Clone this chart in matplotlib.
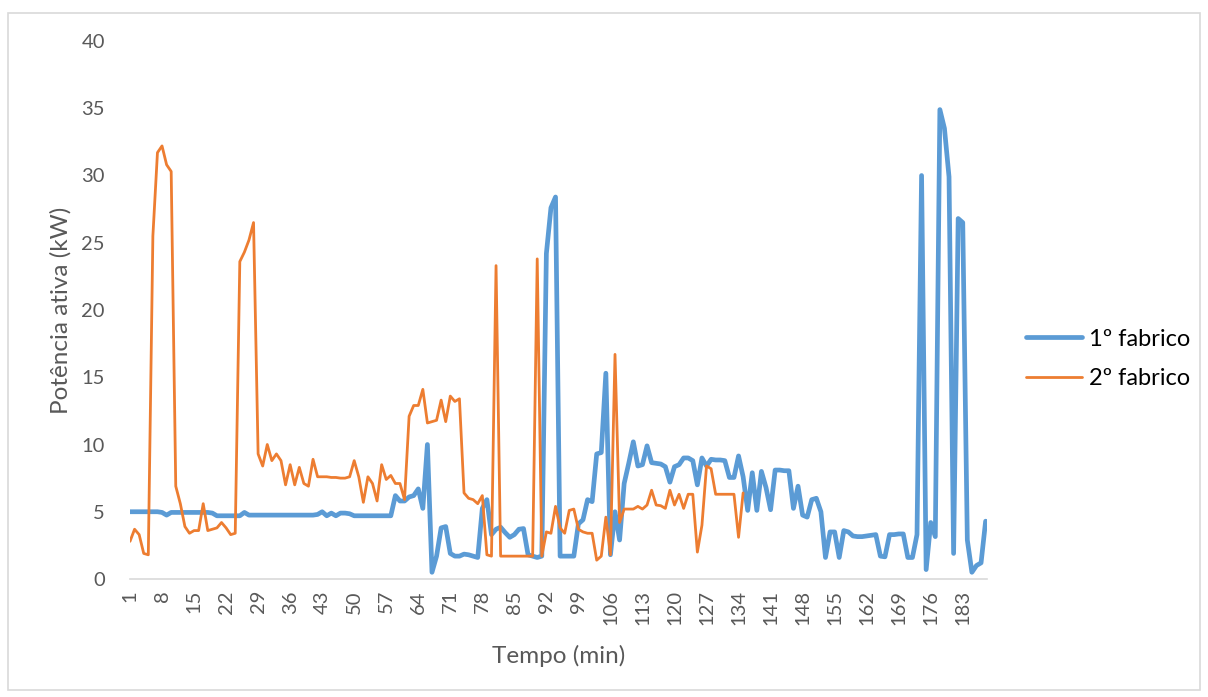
import numpy as np
import matplotlib.pyplot as plt
from matplotlib.patches import Rectangle

# Potência ativa (kW) por minuto
fabrico1 = [5.0, 5.0, 5.0, 5.0, 5.0, 5.0, 5.0, 4.95, 4.75,
            4.95, 4.95, 4.95, 4.95, 4.95, 4.95, 4.95, 4.95, 4.95,
            4.9, 4.7, 4.7, 4.7, 4.7, 4.7, 4.7, 4.95,
            4.75, 4.75, 4.75, 4.75, 4.75, 4.75, 4.75, 4.75, 4.75, 4.75,
            4.75, 4.75, 4.75, 4.75, 4.75,
            4.8, 5.0, 4.7, 4.9, 4.7, 4.9, 4.9, 4.85,
            4.7, 4.7, 4.7, 4.7, 4.7, 4.7, 4.7, 4.7, 4.7,
            6.2, 5.8, 5.8, 6.1, 6.2, 6.7, 5.25, 10.0, 0.5, 1.7,
            3.8, 3.9, 1.9, 1.7, 1.7, 1.85, 1.8, 1.7, 1.6, 5.25,
            5.9, 3.3, 3.7, 3.85, 3.45, 3.1, 3.3, 3.7, 3.75, 1.8,
            1.7, 1.6, 1.7, 24.2, 27.6, 28.4, 1.7, 1.7, 1.7, 1.7,
            4.1, 4.4, 5.9, 5.75, 9.3, 9.4, 15.3, 1.8, 5.0, 2.9,
            7.1, 8.6, 10.2, 8.4, 8.5, 9.9, 8.65, 8.6, 8.55, 8.35,
            7.2, 8.35, 8.5, 9.0, 9.0, 8.8, 7.0, 9.0, 8.4, 8.9,
            8.85, 8.85, 8.8, 7.55, 7.55, 9.15, 7.6, 5.1, 7.9, 5.1,
            8.0, 6.8, 5.15, 8.1, 8.1, 8.05, 8.05, 5.25, 6.9, 4.75,
            4.6, 5.9, 6.0, 5.0, 1.6, 3.5, 3.5, 1.6, 3.6, 3.5,
            3.2, 3.15, 3.15, 3.2, 3.25, 3.3, 1.7, 1.65, 3.3, 3.3,
            3.35, 3.35, 1.6, 1.6, 3.3, 30.0, 0.7, 4.2, 3.15, 34.9,
            33.5, 29.9, 1.9, 26.8, 26.5, 2.9, 0.5, 1.0, 1.2, 4.3]

fabrico2 = [2.8, 3.7, 3.3, 1.9, 1.8, 25.5, 31.7, 32.2, 30.8, 30.3,
            6.9, 5.6, 3.9, 3.4, 3.6, 3.6, 5.6, 3.6, 3.7, 3.8,
            4.2, 3.8, 3.3, 3.4, 23.6, 24.3, 25.2, 26.5, 9.3, 8.4,
            10.0, 8.8, 9.3, 8.8, 7.0, 8.5, 7.0, 8.3, 7.1, 6.9,
            8.9, 7.6, 7.6, 7.6, 7.55, 7.55, 7.5, 7.5, 7.6, 8.8,
            7.6, 5.7, 7.6, 7.1, 5.8, 8.5, 7.4, 7.7, 7.1, 7.1,
            5.9, 12.1, 12.9, 12.9, 14.1, 11.6, 11.7, 11.8, 13.3, 11.7,
            13.6, 13.2, 13.4, 6.4, 6.0, 5.9, 5.6, 6.2, 1.8, 1.7,
            23.3, 1.7, 1.7, 1.7, 1.7, 1.7, 1.7, 1.7, 1.7, 23.8,
            1.7, 3.5, 3.4, 5.4, 3.8, 3.4, 5.1, 5.2, 3.7, 3.5,
            3.4, 3.4, 1.4, 1.7, 4.6, 1.8, 16.7, 4.2, 5.2, 5.2,
            5.2, 5.4, 5.2, 5.5, 6.6, 5.5, 5.45, 5.25, 6.6, 5.5,
            6.3, 5.25, 6.3, 6.3, 2.0, 4.0, 8.4, 8.2, 6.3, 6.3,
            6.3, 6.3, 6.3, 3.1, 6.4]

minutos1 = np.arange(1, len(fabrico1) + 1)
minutos2 = np.arange(1, len(fabrico2) + 1)
ticks_x = np.arange(1, len(fabrico1) + 1, 7)
ticks_y = np.arange(0, 41, 5)

plt.rcParams['font.family'] = ['Lato', 'DejaVu Sans']

fig = plt.figure(figsize=(12.08, 6.97), dpi=100)
fig.patches.append(Rectangle((8 / 1208, 7 / 697), 1192 / 1208, 677 / 697,
                             transform=fig.transFigure, fill=False,
                             edgecolor='#D9D9D9', linewidth=1.2))

ax = fig.add_axes([130 / 1208, 1 - 579 / 697, 857 / 1208, 538 / 697])
ax.plot(minutos1, fabrico1, color='#5B9BD5', linewidth=3.4,
        solid_joinstyle='round', solid_capstyle='round', label='1º fabrico')
ax.plot(minutos2, fabrico2, color='#ED7D31', linewidth=2.0,
        solid_joinstyle='round', solid_capstyle='round', label='2º fabrico')

ax.set_xlim(1, 188.3)
ax.set_ylim(0, 40)
ax.set_xticks(ticks_x)
ax.set_xticklabels([str(t) for t in ticks_x], rotation=90)
ax.set_yticks(ticks_y)

for s in ['top', 'right', 'left']:
    ax.spines[s].set_visible(False)
ax.spines['bottom'].set_color('#D9D9D9')
ax.spines['bottom'].set_linewidth(1.2)
ax.tick_params(axis='both', length=0, labelsize=14.5, labelcolor='#595959')
ax.tick_params(axis='y', pad=18)
ax.tick_params(axis='x', pad=8)

ax.set_xlabel('Tempo (min)', fontsize=17.5, color='#595959', labelpad=14)
ax.set_ylabel('Potência ativa (kW)', fontsize=17.5, color='#595959', labelpad=7)

fig.legend(loc='center left', bbox_to_anchor=(1005 / 1208, 1 - 359 / 697),
           frameon=False, fontsize=17, handlelength=2.35,
           labelspacing=0.8, handletextpad=0.3)

fig.savefig('out.png', dpi=100)
